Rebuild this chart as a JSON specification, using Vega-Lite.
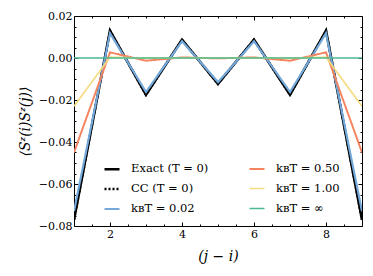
{
  "$schema": "https://vega.github.io/schema/vega-lite/v6.json",
  "autosize": "none",
  "width": 288,
  "height": 210,
  "padding": {"left": 74, "top": 16, "right": 11, "bottom": 50},
  "background": "white",
  "config": {
    "font": "DejaVu Serif",
    "view": {"stroke": "black", "strokeWidth": 1},
    "axis": {"domain": false, "grid": false, "tickColor": "black", "labelColor": "black", "titleColor": "black", "labelFont": "DejaVu Serif", "titleFont": "DejaVu Serif", "labelFontSize": 11, "titleFontSize": 14, "titleFontWeight": "normal"},
    "legend": {"labelFont": "DejaVu Serif", "labelFontSize": 11.5, "labelColor": "black", "labelFontWeight": "normal"}
  },
  "data": {"values": [
    {"s": "Exact (T = 0)", "x": 1, "y": -0.077}, {"s": "Exact (T = 0)", "x": 2, "y": 0.013}, {"s": "Exact (T = 0)", "x": 3, "y": -0.0175}, {"s": "Exact (T = 0)", "x": 4, "y": 0.0087}, {"s": "Exact (T = 0)", "x": 5, "y": -0.0123}, {"s": "Exact (T = 0)", "x": 6, "y": 0.0087}, {"s": "Exact (T = 0)", "x": 7, "y": -0.0175}, {"s": "Exact (T = 0)", "x": 8, "y": 0.013}, {"s": "Exact (T = 0)", "x": 9, "y": -0.077},
    {"s": "CC (T = 0)", "x": 1, "y": -0.077}, {"s": "CC (T = 0)", "x": 2, "y": 0.013}, {"s": "CC (T = 0)", "x": 3, "y": -0.0175}, {"s": "CC (T = 0)", "x": 4, "y": 0.0087}, {"s": "CC (T = 0)", "x": 5, "y": -0.0123}, {"s": "CC (T = 0)", "x": 6, "y": 0.0087}, {"s": "CC (T = 0)", "x": 7, "y": -0.0175}, {"s": "CC (T = 0)", "x": 8, "y": 0.013}, {"s": "CC (T = 0)", "x": 9, "y": -0.077},
    {"s": "kʙT = 0.02", "x": 1, "y": -0.073}, {"s": "kʙT = 0.02", "x": 2, "y": 0.0118}, {"s": "kʙT = 0.02", "x": 3, "y": -0.0162}, {"s": "kʙT = 0.02", "x": 4, "y": 0.008}, {"s": "kʙT = 0.02", "x": 5, "y": -0.0115}, {"s": "kʙT = 0.02", "x": 6, "y": 0.008}, {"s": "kʙT = 0.02", "x": 7, "y": -0.0162}, {"s": "kʙT = 0.02", "x": 8, "y": 0.0118}, {"s": "kʙT = 0.02", "x": 9, "y": -0.073},
    {"s": "kʙT = 0.50", "x": 1, "y": -0.045}, {"s": "kʙT = 0.50", "x": 2, "y": 0.0027}, {"s": "kʙT = 0.50", "x": 3, "y": -0.0013}, {"s": "kʙT = 0.50", "x": 4, "y": 0.0003}, {"s": "kʙT = 0.50", "x": 5, "y": -0.0002}, {"s": "kʙT = 0.50", "x": 6, "y": 0.0003}, {"s": "kʙT = 0.50", "x": 7, "y": -0.0013}, {"s": "kʙT = 0.50", "x": 8, "y": 0.0027}, {"s": "kʙT = 0.50", "x": 9, "y": -0.045},
    {"s": "kʙT = 1.00", "x": 1, "y": -0.023}, {"s": "kʙT = 1.00", "x": 2, "y": 0.0004}, {"s": "kʙT = 1.00", "x": 3, "y": -0.0001}, {"s": "kʙT = 1.00", "x": 4, "y": 0.0}, {"s": "kʙT = 1.00", "x": 5, "y": 0.0}, {"s": "kʙT = 1.00", "x": 6, "y": 0.0}, {"s": "kʙT = 1.00", "x": 7, "y": -0.0001}, {"s": "kʙT = 1.00", "x": 8, "y": 0.0004}, {"s": "kʙT = 1.00", "x": 9, "y": -0.023},
    {"s": "kʙT = ∞", "x": 1, "y": 0.0}, {"s": "kʙT = ∞", "x": 2, "y": 0.0}, {"s": "kʙT = ∞", "x": 3, "y": 0.0}, {"s": "kʙT = ∞", "x": 4, "y": 0.0}, {"s": "kʙT = ∞", "x": 5, "y": 0.0}, {"s": "kʙT = ∞", "x": 6, "y": 0.0}, {"s": "kʙT = ∞", "x": 7, "y": 0.0}, {"s": "kʙT = ∞", "x": 8, "y": 0.0}, {"s": "kʙT = ∞", "x": 9, "y": 0.0}
  ]},
  "resolve": {"axis": {"x": "independent", "y": "independent"}},
  "layer": [
    {
      "mark": {"type": "line", "clip": true},
      "encoding": {
        "x": {"field": "x", "type": "quantitative", "scale": {"domain": [1, 9], "nice": false, "zero": false},
              "axis": {"orient": "bottom", "values": [2, 4, 6, 8], "tickSize": -4, "labelPadding": 6, "title": "(j − i)", "titleFontStyle": "italic", "titlePadding": 10}},
        "y": {"field": "y", "type": "quantitative", "scale": {"domain": [-0.08, 0.02], "nice": false, "zero": false},
              "axis": {"orient": "left", "values": [-0.08, -0.06, -0.04, -0.02, 0, 0.02], "format": ".2f", "tickSize": -4, "labelPadding": 6, "title": "⟨Sᶻ(i)Sᶻ(j)⟩", "titleFontStyle": "italic", "titlePadding": 6}},
        "color": {"field": "s", "type": "nominal",
                  "scale": {"domain": ["Exact (T = 0)", "CC (T = 0)", "kʙT = 0.02", "kʙT = 0.50", "kʙT = 1.00", "kʙT = ∞"],
                            "range": ["#000000", "#000000", "#74a9dc", "#f4845f", "#f5dc84", "#4cb98f"]},
                  "legend": {"orient": "none", "legendX": 29, "legendY": 144, "columns": 2, "columnPadding": 36, "rowPadding": 5, "title": null, "symbolType": "stroke", "symbolSize": 225, "symbolStrokeWidth": 1.5, "labelOffset": 10}},
        "strokeDash": {"field": "s", "type": "nominal",
                  "scale": {"domain": ["Exact (T = 0)", "CC (T = 0)", "kʙT = 0.02", "kʙT = 0.50", "kʙT = 1.00", "kʙT = ∞"],
                            "range": [[1, 0], [2, 2], [1, 0], [1, 0], [1, 0], [1, 0]]},
                  "legend": {"orient": "none", "legendX": 29, "legendY": 144, "columns": 2, "columnPadding": 36, "rowPadding": 5, "title": null, "symbolType": "stroke", "symbolSize": 225, "symbolStrokeWidth": 1.5, "labelOffset": 10}},
        "strokeWidth": {"field": "s", "type": "nominal",
                  "scale": {"domain": ["Exact (T = 0)", "CC (T = 0)", "kʙT = 0.02", "kʙT = 0.50", "kʙT = 1.00", "kʙT = ∞"],
                            "range": [2.6, 1.5, 1.6, 1.5, 1.5, 2]},
                  "legend": null}
      }
    },
    {
      "mark": {"type": "line", "opacity": 0},
      "encoding": {
        "x": {"field": "x", "type": "quantitative", "axis": {"orient": "bottom", "values": [1.5, 2.5, 3, 3.5, 4.5, 5, 5.5, 6.5, 7, 7.5, 8.5], "tickSize": -2, "labels": false, "title": null}},
        "y": {"field": "y", "type": "quantitative", "axis": {"orient": "left", "values": [-0.075, -0.07, -0.065, -0.055, -0.05, -0.045, -0.035, -0.03, -0.025, -0.015, -0.01, -0.005, 0.005, 0.01, 0.015], "tickSize": -2, "labels": false, "title": null}},
        "detail": {"field": "s"}
      }
    },
    {
      "mark": {"type": "line", "opacity": 0},
      "encoding": {
        "x": {"field": "x", "type": "quantitative", "axis": {"orient": "top", "values": [2, 4, 6, 8], "tickSize": -4, "labels": false, "title": null}},
        "y": {"field": "y", "type": "quantitative", "axis": {"orient": "right", "values": [-0.08, -0.06, -0.04, -0.02, 0, 0.02], "tickSize": -4, "labels": false, "title": null}},
        "detail": {"field": "s"}
      }
    },
    {
      "mark": {"type": "line", "opacity": 0},
      "encoding": {
        "x": {"field": "x", "type": "quantitative", "axis": {"orient": "top", "values": [1.5, 2.5, 3, 3.5, 4.5, 5, 5.5, 6.5, 7, 7.5, 8.5], "tickSize": -2, "labels": false, "title": null}},
        "y": {"field": "y", "type": "quantitative", "axis": {"orient": "right", "values": [-0.075, -0.07, -0.065, -0.055, -0.05, -0.045, -0.035, -0.03, -0.025, -0.015, -0.01, -0.005, 0.005, 0.01, 0.015], "tickSize": -2, "labels": false, "title": null}},
        "detail": {"field": "s"}
      }
    }
  ]
}
